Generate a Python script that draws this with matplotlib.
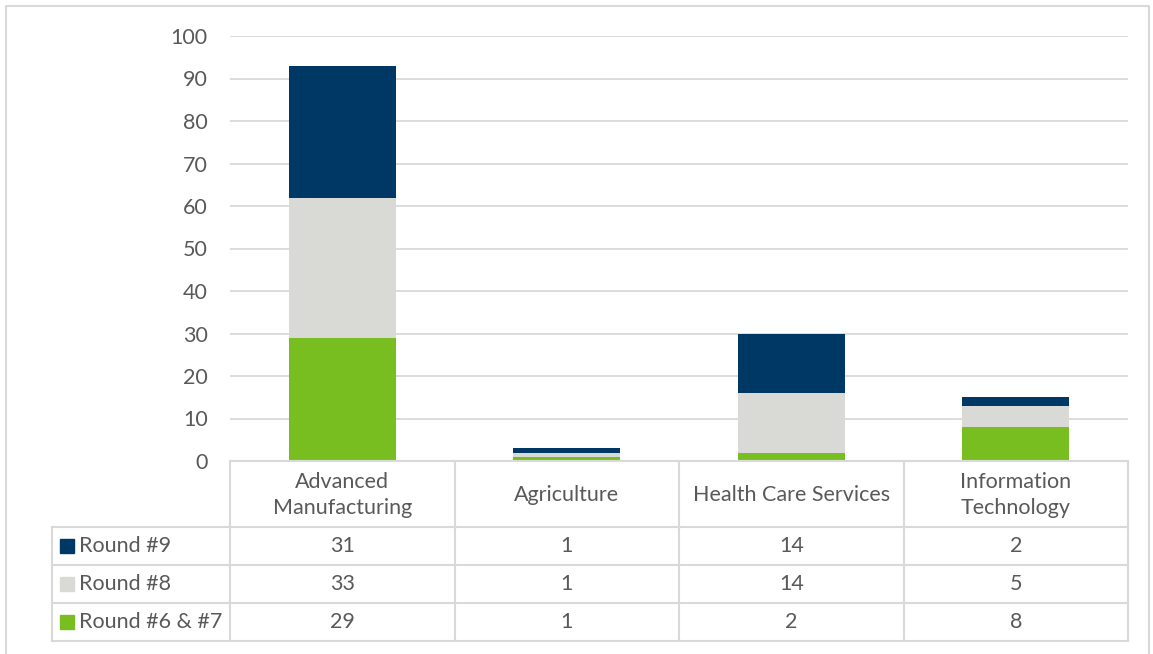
import matplotlib.pyplot as plt
import numpy as np

plt.rcParams['font.family'] = ['Lato', 'DejaVu Sans']

categories = ["Advanced\nManufacturing", "Agriculture", "Health Care Services", "Information\nTechnology"]
series_names = ["Round #6 & #7", "Round #8", "Round #9"]
round_6_7 = [29, 1, 2, 8]
round_8 = [33, 1, 14, 5]
round_9 = [31, 1, 14, 2]
colors = ["#78BE20", "#D9D9D6", "#003865"]

W, H = 1153, 654
fig = plt.figure(figsize=(W / 100, H / 100), dpi=100)

# pixel layout of the chart + data table
x_left, x_right = 230, 1128
y_top, y_zero = 36, 461
row_lines = [527, 565, 603, 641]
table_left = 52
grid_c = "#D9D9D9"
txt_c = "#595959"
fs = 15.5

ax = fig.add_axes([x_left / W, 1 - y_zero / H, (x_right - x_left) / W, (y_zero - y_top) / H])
x = np.arange(len(categories))
bottom = np.zeros(len(categories))
for vals, c in zip([round_6_7, round_8, round_9], colors):
    ax.bar(x, vals, width=0.477, bottom=bottom, color=c, zorder=3)
    bottom += np.array(vals)
ax.set_xlim(-0.5, len(categories) - 0.5)
ax.set_ylim(0, 100)
ax.set_yticks(range(0, 101, 10))
ax.yaxis.grid(True, color=grid_c, lw=1.3, zorder=0)
ax.set_xticks([])
for s in ax.spines.values():
    s.set_visible(False)
ax.tick_params(axis='y', length=0, pad=16, labelsize=fs, labelcolor=txt_c)

# overlay in pixel coordinates for the frame and the table
ov = fig.add_axes([0, 0, 1, 1], facecolor='none')
ov.set_xlim(0, W)
ov.set_ylim(H, 0)
ov.axis('off')

# outer frame
ov.plot([6, 6, 1149, 1149], [H + 5, 6, 6, H + 5], color=grid_c, lw=1.5)

col_w = (x_right - x_left) / len(categories)
col_edges = [x_left + i * col_w for i in range(len(categories) + 1)]

ov.plot([x_left, x_right], [y_zero, y_zero], color=grid_c, lw=1.5)
for ce in col_edges:
    ov.plot([ce, ce], [y_zero, row_lines[-1]], color=grid_c, lw=1.5)
for ry in row_lines:
    ov.plot([table_left, x_right], [ry, ry], color=grid_c, lw=1.5)
ov.plot([table_left, table_left], [row_lines[0], row_lines[-1]], color=grid_c, lw=1.5)

# header row with category names
for i, name in enumerate(categories):
    cx = col_edges[i] + col_w / 2
    ov.text(cx, (y_zero + row_lines[0]) / 2 + 1, name, ha='center', va='center',
            fontsize=fs, color=txt_c, linespacing=1.4)

# data rows, top row is the last series
table_rows = list(zip(series_names, [round_6_7, round_8, round_9], colors))[::-1]
for r, (name, vals, c) in enumerate(table_rows):
    cy = (row_lines[r] + row_lines[r + 1]) / 2
    ov.add_patch(plt.Rectangle((60, cy - 7), 14, 14, color=c))
    ov.text(79, cy, name, ha='left', va='center', fontsize=fs, color=txt_c)
    for i, v in enumerate(vals):
        ov.text(col_edges[i] + col_w / 2, cy, str(v), ha='center', va='center',
                fontsize=fs, color=txt_c)

fig.savefig("out.png", dpi=100, facecolor='white')
